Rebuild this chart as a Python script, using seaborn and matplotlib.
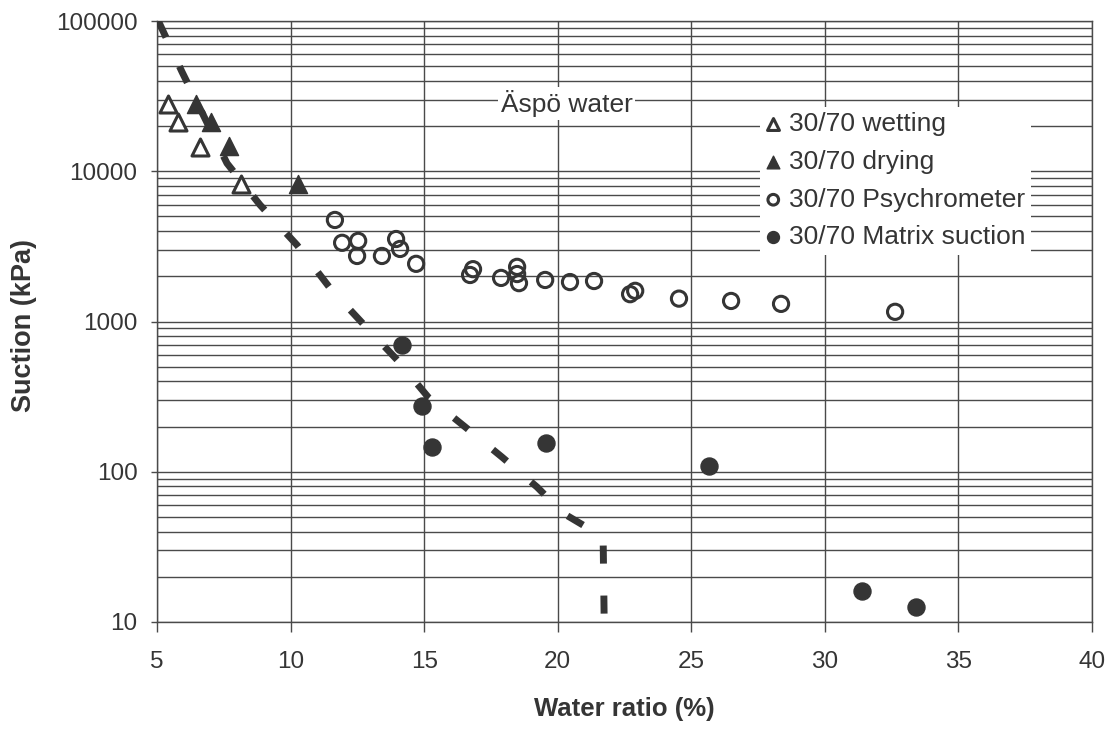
import numpy as np
import pandas as pd
import matplotlib
matplotlib.use('Agg')
import matplotlib.pyplot as plt
from matplotlib.ticker import LogLocator, FixedLocator, NullFormatter
import seaborn as sns

# Äspö water curve (dashed)
aspo_w = [5.05, 5.94, 7.62, 8.86, 10.24, 11.51, 12.75, 13.99, 15.15, 16.53, 17.92, 19.23, 20.20, 21.70, 21.74]
aspo_s = [100000, 45700, 11300, 5960, 3230, 1640, 950, 555, 314, 199, 125, 79, 53, 36.8, 10]

# 30/70 wetting
wet_w = [5.41, 5.79, 6.61, 8.14]
wet_s = [28000, 21300, 14500, 8220]

# 30/70 drying
dry_w = [6.46, 7.02, 7.70, 10.28]
dry_s = [28000, 21300, 14700, 8220]

# 30/70 psychrometer
psy_w = [11.66, 11.93, 12.53, 12.49, 13.42, 13.95, 14.10, 14.70, 16.72, 16.83, 17.88, 18.48,
         18.48, 18.55, 19.53, 20.46, 21.36, 22.71, 22.90, 24.54, 26.49, 28.36, 32.63]
psy_s = [4740, 3340, 3440, 2730, 2730, 3540, 3040, 2420, 2040, 2230, 1950, 2310,
         2070, 1800, 1890, 1830, 1860, 1520, 1600, 1420, 1370, 1310, 1160]

# 30/70 matrix suction
mat_w = [14.17, 14.92, 15.30, 19.56, 25.67, 31.40, 33.42]
mat_s = [700, 274, 146, 155, 109, 16.1, 12.6]

x_ticks = [5, 10, 15, 20, 25, 30, 35, 40]
y_ticks = [10, 100, 1000, 10000, 100000]

ink = '#353535'
grid_c = '#4a4a4a'

sns.set_style('white')
plt.rcParams['font.family'] = ['Liberation Sans', 'DejaVu Sans']
plt.rcParams['text.color'] = ink

fig = plt.figure(figsize=(11.14, 7.31), dpi=100)
ax = fig.add_axes([157 / 1114, 1 - 622 / 731, 935 / 1114, 601 / 731])

# dashed water curve
sns.lineplot(x=aspo_w, y=aspo_s, sort=False, estimator=None, ax=ax, color=ink,
             linewidth=5, linestyle=(0, (2.6, 4.6)), solid_capstyle='butt',
             dash_capstyle='butt', legend=False, zorder=3)

sns.scatterplot(x=wet_w, y=wet_s, marker='^', s=150, facecolor='white', edgecolor=ink,
                linewidth=2.2, ax=ax, label='30/70 wetting', zorder=4)
sns.scatterplot(x=dry_w, y=dry_s, marker='^', s=170, color=ink, edgecolor=ink,
                linewidth=1, ax=ax, label='30/70 drying', zorder=4)
sns.scatterplot(x=psy_w, y=psy_s, marker='o', s=120, facecolor='none', edgecolor=ink,
                linewidth=2.2, ax=ax, label='30/70 Psychrometer', zorder=4)
sns.scatterplot(x=mat_w, y=mat_s, marker='o', s=150, color=ink, edgecolor=ink,
                linewidth=1, ax=ax, label='30/70 Matrix suction', zorder=4)

ax.set_yscale('log')
ax.set_xlim(5, 40)
ax.set_ylim(10, 100000)
ax.xaxis.set_major_locator(FixedLocator(x_ticks))
ax.yaxis.set_major_locator(FixedLocator(y_ticks))
ax.yaxis.set_minor_locator(LogLocator(base=10, subs=np.arange(2, 10)))
ax.yaxis.set_minor_formatter(NullFormatter())
ax.set_yticklabels([str(v) for v in y_ticks])
ax.set_xticklabels([str(v) for v in x_ticks])

ax.grid(which='major', axis='both', color=grid_c, linewidth=1.0)
ax.grid(which='minor', axis='y', color=grid_c, linewidth=1.0)
ax.set_axisbelow(True)
for sp in ax.spines.values():
    sp.set_color(grid_c)
    sp.set_linewidth(1.0)

ax.tick_params(axis='y', which='major', length=4, width=1, color=grid_c, pad=10,
               labelsize=17.5, labelcolor=ink, direction='out', left=True)
ax.tick_params(axis='y', which='minor', length=0)
ax.tick_params(axis='x', which='major', length=7, width=1, color=grid_c, pad=14,
               labelsize=17.5, labelcolor=ink, direction='out', bottom=True)

ax.set_xlabel('Water ratio (%)', fontsize=18.5, fontweight='bold', color=ink, va='top')
ax.set_ylabel('Suction (kPa)', fontsize=19.5, fontweight='bold', color=ink)
ax.xaxis.set_label_coords(0.50, -0.124)
ax.yaxis.set_label_coords(-0.128, 0.494)

ax.text(20.33, 28400, 'Äspö water', fontsize=19, color=ink, ha='center', va='center',
        bbox=dict(facecolor='white', edgecolor='none', pad=2), zorder=5)

leg = ax.legend(loc='upper left', bbox_to_anchor=(0.645, 0.857), fontsize=19,
                frameon=True, fancybox=False, edgecolor='none', facecolor='white',
                framealpha=1, handlelength=0.6, handletextpad=0.3, labelspacing=0.52,
                borderpad=0.2, markerscale=0.7, borderaxespad=0)
leg.set_zorder(6)
for t in leg.get_texts():
    t.set_color(ink)

fig.savefig('out.png', dpi=100)
